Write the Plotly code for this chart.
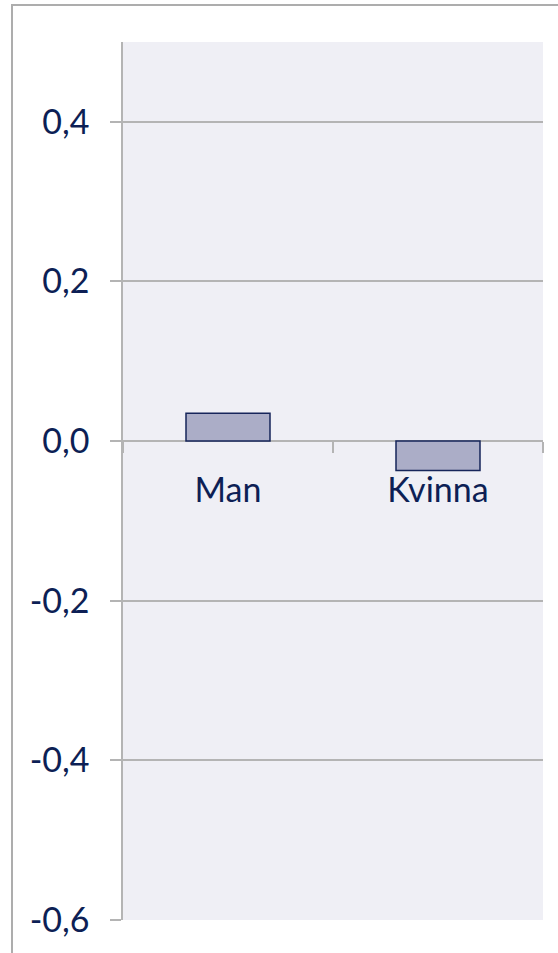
import plotly.graph_objects as go

# Mean difference by sex
categories = ["Man", "Kvinna"]
values = [0.035, -0.037]

# y axis ticks (Swedish decimal comma, hyphen minus)
y_tick_vals = [-0.6, -0.4, -0.2, 0.0, 0.2, 0.4]
y_tick_labels = ["-0,6", "-0,4", "-0,2", "0,0", "0,2", "0,4"]
y_range = [-0.6, 0.5]

TEXT = "#0d1f55"
GRID = "#b4b4b4"
FONT = "Lato"

W, H = 558, 953
m_l, m_r, m_t, m_b = 123, 15, 42, 33
plot_w = W - m_l - m_r
plot_h = H - m_t - m_b

fig = go.Figure()
fig.add_trace(go.Bar(
    x=categories,
    y=values,
    width=0.4,
    marker=dict(color="#abadc7", line=dict(color="#16255a", width=1.5)),
))

# zero position as a fraction of the plot height, for the category axis
zero_frac = (0 - y_range[0]) / (y_range[1] - y_range[0])

fig.update_layout(
    width=W, height=H,
    margin=dict(l=m_l, r=m_r, t=m_t, b=m_b, pad=0),
    paper_bgcolor="white",
    plot_bgcolor="#efeff5",
    showlegend=False,
    font=dict(family=FONT, size=34, color=TEXT),
    xaxis=dict(
        type="category",
        anchor="free",
        position=zero_frac,
        showline=False,
        showgrid=False,
        zeroline=False,
        ticks="outside",
        tickson="boundaries",
        ticklen=11,
        tickwidth=1.5,
        tickcolor=GRID,
        ticklabelstandoff=26,
        tickfont=dict(family=FONT, size=34, color=TEXT),
    ),
    yaxis=dict(
        range=y_range,
        tickvals=y_tick_vals,
        ticktext=y_tick_labels,
        showline=True,
        linecolor=GRID,
        linewidth=1.5,
        showgrid=True,
        gridcolor=GRID,
        gridwidth=1.5,
        zeroline=False,
        ticks="outside",
        ticklen=11,
        tickwidth=1.5,
        tickcolor=GRID,
        ticklabelstandoff=14,
        tickfont=dict(family=FONT, size=34, color=TEXT),
    ),
)

# outer chart border (extends past the right and bottom edges)
fig.add_shape(
    type="rect", xref="paper", yref="paper",
    x0=(12 - m_l) / plot_w, x1=(W + 10 - m_l) / plot_w,
    y0=(m_t + plot_h - (H + 10)) / plot_h, y1=(m_t + plot_h - 5) / plot_h,
    line=dict(color="#adadad", width=2), fillcolor="rgba(0,0,0,0)",
    layer="below",
)

fig.write_html("out.html")
